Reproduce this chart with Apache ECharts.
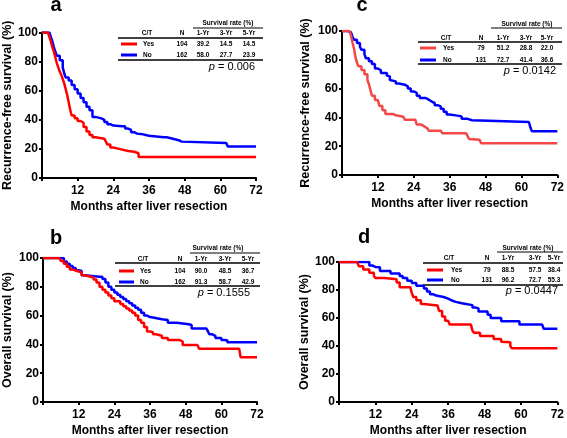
<!DOCTYPE html>
<html><head><meta charset="utf-8">
<script src="https://cdn.jsdelivr.net/npm/echarts@6/dist/echarts.min.js"></script>
<style>html,body{margin:0;padding:0;background:#fff}#c{width:567px;height:438px}</style>
</head><body><div id="c"></div>
<script>
// ---- data (month, survival %) ----
const redA = [[0,100],[2,100],[2.5,97],[3,94],[3.5,90],[4,87],[4.5,83],[5,79],[5.5,76],[6,73],[6.5,71],[7,68],[7.5,65],[8,61],[8.5,57],[9,52],[9.5,47],[10,43],[11,41],[12,39.2],[13,38],[14,35],[15,32],[16,29.5],[17,28],[18,27],[21,27],[21.5,25],[22,23],[23,21],[24,20],[26,19.5],[27,18.5],[29,18],[31,17],[32.5,14.5],[72,14.5]];
const blueA = [[0,100],[2.5,100],[3,97],[3.5,94],[4,90],[4.5,87],[5,84],[6,81],[7,76],[7.5,72],[8,69],[9,67],[10,64],[11,61],[12,58],[13,55],[14,52],[15,49],[16,46.5],[17,42],[18,41],[20,40],[21,38.5],[22,37],[23,36],[24,35.5],[27,35.5],[28,34],[29,33],[30,31.5],[31,30.5],[32,30],[34,29],[36,28],[41,28],[42,27],[44,26],[46,25],[47,24],[62,24],[62.5,21.7],[72,21.7]];
const redB = [[0,100],[5.5,100],[6,98],[7,96],[8,94],[9,92],[10,91],[11.5,90],[13,88],[14,87],[16,86.5],[17,85],[18,83],[19,80],[20,78],[21,76],[22,74],[23,72],[24,70],[26,68],[27,66.5],[28,65],[29,63.5],[30,62],[31,60],[32,57],[33,55],[34,52],[35,49],[36,48.5],[37,47],[38,46],[40,44.5],[42,43],[46,42],[47,39.5],[52,39.5],[52.5,37],[66,37],[66.5,31],[72,31]];
const blueB = [[0,100],[6,100],[7,97.5],[8,96],[9,94.5],[10,93],[11,91.5],[12,91],[13,88],[14,87],[19,87],[20,85.5],[21,83],[22,80],[23,78],[24,76],[25,74.5],[26,73],[27,71.5],[28,70],[29,68.5],[30,67],[31,65.5],[32,64],[33,62],[34,60],[35,59],[36,58.7],[37,57.5],[40,57],[42,55],[45,54],[49,53.5],[50,51],[55,51],[55.5,49],[56,47],[57,46],[58,44.5],[60,43],[61,42.9],[62,41.5],[72,41.5]];
const redC = [[0,100],[2.5,100],[3,97],[3.5,92],[4,88],[4.5,82],[5,78],[5.5,75.5],[6.5,73],[7.5,70],[8.5,66],[9,63],[9.5,59],[10,55],[11,52],[12,51.2],[12.5,48],[13.5,45],[14.5,42.4],[17,41.5],[18,40.5],[20.5,39.5],[21,38.4],[24.5,37.3],[25,35],[26.5,33.8],[27.5,32.5],[28.5,31.5],[29,30.8],[33,30.8],[33.5,29],[41.5,29],[42,27],[42.5,25],[43,24.5],[46,24.5],[46.5,22],[72,22]];
const blueC = [[0,100],[2,100],[2.5,99],[3,98],[3.5,96],[4,94],[5,91.7],[6,89],[6.5,87],[7.5,84],[8,81],[9,79],[10,77],[11,74],[12,72.7],[13,70.8],[15,69],[15.5,68.5],[16,66],[16.5,65],[18,63.5],[19,62.7],[21,61.6],[22,60],[23,58],[24,57],[25,55],[26,53.5],[28,52.3],[29,51],[30,50],[31,48.5],[32,47.7],[33,46],[34,44],[35,42],[36,41.4],[38,40.7],[40,39],[42,38],[43.5,36.8],[62.5,36.8],[63,33],[63.5,30.3],[72,30.3]];
const redD = [[0,100],[6,100],[6.5,97],[8,94.7],[10,92.4],[11.5,90],[12,88.5],[15,87.7],[19,85.4],[20,82],[23.5,82],[24,78],[24.5,75],[25.5,72.7],[27,70],[28,69],[32.5,69],[33,65],[34,61],[35,58],[36,57.5],[36.5,55.3],[43.5,55.3],[44,51],[44.5,49.5],[46.5,47.2],[51,45],[53.5,43],[54,42.6],[56.5,40],[57,38.4],[72,38.4]];
const blueD = [[0,100],[9,100],[10,97.5],[11,96.5],[12,96.2],[13.5,93.5],[17,91.7],[20,90],[21,88.5],[22.5,86.6],[24,85],[25.5,83],[28,81],[29,79],[30,77],[31,76],[32,75],[34.5,73.8],[36,72.7],[37,71.5],[38.5,70.5],[40.5,69.2],[44,67.5],[45,66.9],[46,64.6],[49,62.3],[50,60],[53.5,57.6],[59.5,55.3],[67,55.3],[67.5,52.3],[72,52.3]];

// ---- texts ----
const panelLetters = ['a','b','c','d'];
const yTitles = ['Recurrence-free survival (%)','Overall survival (%)','Recurrence-free survival (%)','Overall survival (%)'];
const xTitle = 'Months after liver resection';
const tableTitle = 'Survival rate (%)';
const tableHeader = ['C/T','N','1-Yr','3-Yr','5-Yr'];
const groupLabels = ['Yes','No'];
const statsA = [['104','39.2','14.5','14.5'],['162','58.0','27.7','23.9']];
const statsB = [['104','90.0','48.5','36.7'],['162','91.3','58.7','42.9']];
const statsC = [['79','51.2','28.8','22.0'],['131','72.7','41.4','36.6']];
const statsD = [['79','88.5','57.5','38.4'],['131','96.2','72.7','55.3']];
const pValues = ['0.006','0.1555','0.0142','0.0447'];

// ---- layout ----
const RED = '#ff0000', RED_C = '#f24848', BLUE = '#0000ff';
const grids = [
  {left:39, top:32.5, width:217, height:145.5},
  {left:39, top:258, width:218, height:145},
  {left:342, top:31, width:217, height:144},
  {left:339, top:262, width:219, height:144}
];
const nameGaps = [27, 29, 30, 27];
const letterPos = [[56,5],[56,238],[362,5],[364,237]];
const tables = [
  {hdr:[228,23], hl:[193,263,28], colY:33, cols:[147,182,203,226,249], l2:[118,263,38], rows:[44,55], l3:60, p:[255,67], leg:[121,137], lab:143},
  {hdr:[218,248], hl:[190,260,253], colY:259, cols:[143,180,201,225,248], l2:[115,260,263], rows:[271,282], l3:286, p:[250,293], leg:[119,134], lab:140},
  {hdr:[527,24], hl:[491,562,28], colY:38, cols:[446,481,503,526,547], l2:[418,562,42], rows:[48,60], l3:64, p:[556,71], leg:[420,436], lab:443},
  {hdr:[528,248], hl:[497,563,252], colY:258, cols:[449,487,508,535,554], l2:[423,563,263], rows:[270,280], l3:285, p:[558,291], leg:[427,443], lab:451}
];
const allStats = [statsA, statsB, statsC, statsD];
const allSeries = [[redA,blueA],[redB,blueB],[redC,blueC],[redD,blueD]];
const redCols = [RED, RED, RED_C, RED];

const FF = '"Liberation Sans", Arial, sans-serif';
const SMALL = 'bold 6.5px "Liberation Sans Narrow", "Liberation Sans", sans-serif';

function txt(text, x, y, font, align) {
  return {type:'text', silent:true, style:{text, x, y, font, fill:'#000',
    align: align||'center', verticalAlign:'middle', textAlign: align||'center', textVerticalAlign:'middle'}};
}
function ln(x1,y1,x2,y2,color,w){
  return {type:'line', silent:true, shape:{x1,y1,x2,y2}, style:{stroke:color||'#000', lineWidth:w||1}};
}

const graphics = [];
tables.forEach((T,i)=>{
  graphics.push(txt(panelLetters[i], letterPos[i][0], letterPos[i][1], 'bold 20px '+FF));
  graphics.push(txt(tableTitle, T.hdr[0], T.hdr[1], SMALL));
  graphics.push(ln(T.hl[0],T.hl[2],T.hl[1],T.hl[2],'#000',1));
  tableHeader.forEach((h,j)=>graphics.push(txt(h, T.cols[j], T.colY, SMALL)));
  graphics.push(ln(T.l2[0],T.l2[2],T.l2[1],T.l2[2],'#000',1.5));
  T.rows.forEach((ry,r)=>{
    graphics.push(ln(T.leg[0],ry,T.leg[1],ry,r===0?redCols[i]:BLUE,3));
    graphics.push(txt(groupLabels[r], T.lab, ry, SMALL, 'left'));
    allStats[i][r].forEach((v,j)=>graphics.push(txt(v, T.cols[j+1], ry, SMALL)));
  });
  graphics.push(ln(T.l2[0],T.l3,T.l2[1],T.l3,'#000',1.5));
  graphics.push({type:'text', silent:true, style:{text:'{i|p} = '+pValues[i], x:T.p[0], y:T.p[1],
    fontSize:11, fontFamily:FF, fill:'#000', align:'right', verticalAlign:'middle', textAlign:'right', textVerticalAlign:'middle',
    rich:{i:{fontStyle:'italic', fontSize:11, fontFamily:FF, fill:'#000'}}}});
});

const axisLine = {show:true, onZero:false, lineStyle:{color:'#000', width:2}};
const axisTick = {show:true, length:3, lineStyle:{color:'#000', width:2}};
const xAxis = grids.map((g,i)=>({
  gridIndex:i, type:'value', min:0, max:72, interval:12,
  axisLine, axisTick, splitLine:{show:false},
  axisLabel:{formatter:v=>v===0?'':String(v), color:'#000', fontWeight:'bold', fontSize:12, fontFamily:FF, margin:7},
  name:xTitle, nameLocation:'middle', nameGap:23,
  nameTextStyle:{color:'#000', fontWeight:'bold', fontSize:12, fontFamily:FF}
}));
const yAxis = grids.map((g,i)=>({
  gridIndex:i, type:'value', min:0, max:100, interval:20,
  axisLine, axisTick, splitLine:{show:false},
  axisLabel:{color:'#000', fontWeight:'bold', fontSize:12, fontFamily:FF, margin:4},
  name:yTitles[i], nameLocation:'middle', nameGap:nameGaps[i],
  nameTextStyle:{color:'#000', fontWeight:'bold', fontSize:12.5, fontFamily:FF}
}));
const series = [];
allSeries.forEach((pair,i)=>{
  pair.forEach((d,k)=>{
    series.push({type:'line', name:groupLabels[k], xAxisIndex:i, yAxisIndex:i, data:d, step:'end',
      showSymbol:false, symbol:'none', silent:true, z: k===0?3:2,
      lineStyle:{color:k===0?redCols[i]:BLUE, width:2.5}});
  });
});

const chart = echarts.init(document.getElementById('c'), null, {renderer:'canvas'});
chart.setOption({
  animation:false, backgroundColor:'#fff',
  grid: grids.map(g=>Object.assign({containLabel:false}, g)),
  xAxis, yAxis, series, graphic: graphics
});
</script></body></html>
